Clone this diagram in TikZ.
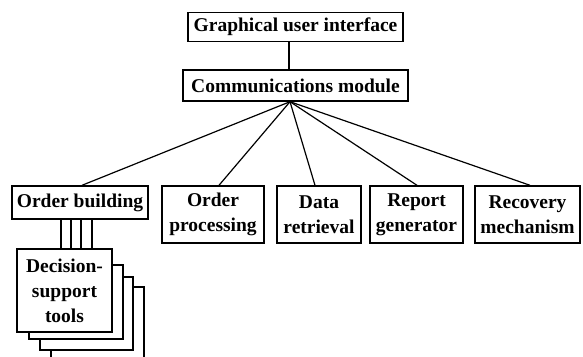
\documentclass[tikz,border=0pt]{standalone}
\usepackage{fontspec}
\setmainfont{Liberation Serif}
\begin{document}
\begin{tikzpicture}[x=1pt,y=-1pt,
  lbl/.style={font=\bfseries\fontsize{19.5}{25}\selectfont, align=center},
  box/.style={draw, line width=1.4pt, fill=white, inner sep=0pt, lbl},
  wire/.style={line width=1.2pt}]
\useasboundingbox (0,0) rectangle (583,356);
% top boxes
\node[box, minimum width=215pt, minimum height=29pt] (gui) at (295.5,27) {Graphical user interface};
\node[box, minimum width=225pt, minimum height=31pt] (comm) at (295.5,85.5) {Communications module};
\coordinate (v) at (289,0);
\coordinate (hubx) at (290,0);
\draw[wire] (gui.south -| v) -- (comm.north -| v);
\coordinate (hub) at (comm.south -| hubx);
% second row
\node[box, minimum width=136pt, minimum height=33pt] (ob) at (80,202.5) {Order building};
\node[box, minimum width=102pt, minimum height=57pt] (op) at (213,214.5) {Order\\processing};
\node[box, minimum width=84pt, minimum height=57pt] (dr) at (319,214.5) {Data\\retrieval};
\node[box, minimum width=93pt, minimum height=57pt] (rg) at (416.5,214.5) {Report\\generator};
\node[box, minimum width=105pt, minimum height=57pt] (rm) at (527.5,214.5) {Recovery\\mechanism};
\draw[wire] (hub) -- ([xshift=2pt]ob.north);
\draw[wire] (hub) -- ([xshift=6pt]op.north);
\draw[wire] (hub) -- ([xshift=-4pt]dr.north);
\draw[wire] (hub) -- ([xshift=0.5pt]rg.north);
\draw[wire] (hub) -- ([xshift=2.5pt]rm.north);
% stacked decision-support boxes
\draw[line width=1.4pt] (51,358) -- (51,287) -- (144,287) -- (144,358);
\node[box, minimum width=93pt, minimum height=73pt] (d3) at (86.5,313.5) {};
\node[box, minimum width=94pt, minimum height=74pt] (d2) at (76,302) {};
\node[box, minimum width=95pt, minimum height=83pt] (dst) at (64.5,290.5) {Decision-\\support\\tools};
\foreach \xx in {61,71,81,92} {
  \coordinate (t\xx) at (\xx,0);
  \draw[wire] (ob.south -| t\xx) -- (dst.north -| t\xx);
}
\end{tikzpicture}
\end{document}
